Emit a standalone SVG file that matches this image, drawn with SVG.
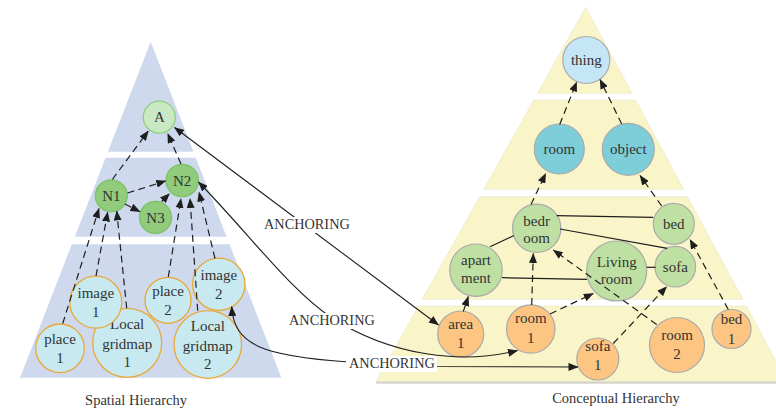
<svg xmlns="http://www.w3.org/2000/svg" width="776" height="410" viewBox="0 0 776 410">
  <defs>
    <marker id="arrow" markerUnits="userSpaceOnUse" markerWidth="10" markerHeight="8" refX="9.5" refY="4" orient="auto-start-reverse">
      <path d="M0,0 L10,4 L0,8 z" fill="#1e1e1e"/>
    </marker>
    <style>
      .tier-s { fill: #cfd9ee; }
      .tier-c { fill: #faf5c9; stroke: #e8e5cc; stroke-width: 0.6; }
      .lbl { font-family: "Liberation Serif", "Times New Roman", serif; font-size: 15px; fill: #333; text-anchor: middle; }
      .cap { font-family: "Liberation Serif", "Times New Roman", serif; font-size: 14.5px; fill: #333; text-anchor: middle; }
      .anc { font-family: "Liberation Serif", "Times New Roman", serif; font-size: 14.3px; fill: #333; }
      .n-a { fill: #c9e8c4; stroke: #8fd07e; stroke-width: 1.3; }
      .n-n { fill: #91cc7d; stroke: #7cc266; stroke-width: 1.3; }
      .n-s { fill: #c8e9f0; stroke: #e9a835; stroke-width: 1.3; }
      .n-top { fill: #c4e6f7; stroke: #aaaaaa; stroke-width: 1.2; }
      .n-mid { fill: #7dced9; stroke: #aaaaaa; stroke-width: 1.2; }
      .n-grn { fill: #bfe0a3; stroke: #aaaaaa; stroke-width: 1.2; }
      .n-org { fill: #fcc682; stroke: #aaaaaa; stroke-width: 1.2; }
      .dash { fill: none; stroke: #1e1e1e; stroke-width: 1.2; stroke-dasharray: 7 4.5; marker-end: url(#arrow); }
      .solid { fill: none; stroke: #1e1e1e; stroke-width: 1.2; }
      .link { fill: none; stroke: #1e1e1e; stroke-width: 1.1; marker-start: url(#arrow); marker-end: url(#arrow); }
    </style>
  </defs>

  <!-- spatial hierarchy tiers -->
  <g id="spatial-tiers">
    <polygon class="tier-s" points="150.7,41.7 193.5,151.7 107.9,151.7"/>
    <polygon class="tier-s" points="105.6,157.7 195.8,157.7 226.6,236.7 74.8,236.7"/>
    <polygon class="tier-s" points="71.8,244.3 229.6,244.3 281.4,377.7 20,377.7"/>
  </g>

  <!-- conceptual hierarchy tiers -->
  <g id="conceptual-tiers">
    <polygon class="tier-c" points="585.7,7.3 632,93.3 537.5,93.3"/>
    <polygon class="tier-c" points="533.8,100 635.6,100 683.6,189.3 483.8,189.3"/>
    <polygon class="tier-c" points="479.6,196.7 687.6,196.7 742.8,299.3 422.2,299.3"/>
    <polygon class="tier-c" points="418.4,306 746.4,306 787.1,381.7 376,381.7"/>
    <line x1="376" y1="382.6" x2="776" y2="382.6" stroke="#d6d5cb" stroke-width="2.2"/>
  </g>

  <!-- spatial nodes -->
  <g id="A"><circle class="n-a" cx="159.3" cy="117.2" r="16"/><text class="lbl" x="159.3" y="122.2">A</text></g>
  <g id="N1"><circle class="n-n" cx="111.3" cy="195.8" r="16"/><text class="lbl" x="111.3" y="200.8">N1</text></g>
  <g id="N2"><circle class="n-n" cx="182.2" cy="180.5" r="16.2"/><text class="lbl" x="182.2" y="185.5">N2</text></g>
  <g id="N3"><circle class="n-n" cx="155.5" cy="217.5" r="16"/><text class="lbl" x="155.5" y="222.5">N3</text></g>
  <g id="place1"><circle class="n-s" cx="60" cy="348.3" r="24.3"/><text class="lbl" x="60" y="343.5">place</text><text class="lbl" x="60" y="363">1</text></g>
  <g id="gridmap1"><circle class="n-s" cx="127.2" cy="342.8" r="34.5"/><text class="lbl" x="127.2" y="329">Local</text><text class="lbl" x="127.2" y="349">gridmap</text><text class="lbl" x="127.2" y="367">1</text></g>
  <g id="image1"><circle class="n-s" cx="95.8" cy="302.2" r="26"/><text class="lbl" x="95.8" y="297.5">image</text><text class="lbl" x="95.8" y="317">1</text></g>
  <g id="gridmap2"><circle class="n-s" cx="207.8" cy="344.5" r="33.8"/><text class="lbl" x="207.8" y="331">Local</text><text class="lbl" x="207.8" y="351">gridmap</text><text class="lbl" x="207.8" y="369">2</text></g>
  <g id="place2"><circle class="n-s" cx="168" cy="300.3" r="23"/><text class="lbl" x="168" y="295.5">place</text><text class="lbl" x="168" y="315">2</text></g>
  <g id="image2"><circle class="n-s" cx="218.8" cy="284.3" r="26.2"/><text class="lbl" x="218.8" y="279.5">image</text><text class="lbl" x="218.8" y="299">2</text></g>

  <!-- conceptual nodes -->
  <g id="thing"><circle class="n-top" cx="586.3" cy="60" r="23.5"/><text class="lbl" x="586.3" y="65">thing</text></g>
  <g id="room"><circle class="n-mid" cx="559.3" cy="149" r="25"/><text class="lbl" x="559.3" y="154">room</text></g>
  <g id="object"><circle class="n-mid" cx="628.3" cy="149.3" r="26"/><text class="lbl" x="628.3" y="154.3">object</text></g>
  <g id="bedroom"><circle class="n-grn" cx="536.7" cy="228.3" r="24.2"/><text class="lbl" x="536.7" y="225.5">bedr</text><text class="lbl" x="536.7" y="243.3">oom</text></g>
  <g id="bed"><circle class="n-grn" cx="673.8" cy="223.8" r="20.5"/><text class="lbl" x="673.8" y="228.8">bed</text></g>
  <g id="apartment"><circle class="n-grn" cx="476" cy="270.2" r="26.2"/><text class="lbl" x="476" y="265">apart</text><text class="lbl" x="476" y="283.3">ment</text></g>
  <g id="living-room"><circle class="n-grn" cx="616.7" cy="271" r="30"/><text class="lbl" x="616.7" y="266.7">Living</text><text class="lbl" x="616.7" y="284.3">room</text></g>
  <g id="sofa"><circle class="n-grn" cx="675.3" cy="266.7" r="20.3"/><text class="lbl" x="675.3" y="271.7">sofa</text></g>
  <g id="area1"><circle class="n-org" cx="460.7" cy="334" r="23"/><text class="lbl" x="460.7" y="329.3">area</text><text class="lbl" x="460.7" y="348.3">1</text></g>
  <g id="room1"><circle class="n-org" cx="530.8" cy="329" r="24.2"/><text class="lbl" x="530.8" y="322.7">room</text><text class="lbl" x="530.8" y="343.3">1</text></g>
  <g id="sofa1"><circle class="n-org" cx="597.8" cy="359" r="21"/><text class="lbl" x="597.8" y="350.7">sofa</text><text class="lbl" x="597.8" y="370">1</text></g>
  <g id="room2"><circle class="n-org" cx="677" cy="345" r="27.5"/><text class="lbl" x="677" y="340">room</text><text class="lbl" x="677" y="359.3">2</text></g>
  <g id="bed1"><circle class="n-org" cx="731.5" cy="329" r="19.5"/><text class="lbl" x="731.5" y="324">bed</text><text class="lbl" x="731.5" y="344">1</text></g>

  <!-- connectors -->
  <g id="connectors">
    <!-- spatial hierarchy -->
    <path class="dash" d="M112.3,179.5 L148.3,131"/>
    <path class="dash" d="M181,164 L167.7,133.5"/>
    <path class="dash" d="M127.5,193 L165.7,181"/>
    <path class="dash" d="M125,204 L140,211.7"/>
    <path class="dash" d="M161.7,201.5 L169.5,193.5"/>
    <path class="dash" d="M62.7,323.5 L99,208.5"/>
    <path class="dash" d="M96,276 L107.7,212"/>
    <path class="dash" d="M126.7,308.3 L116.7,211"/>
    <path class="dash" d="M168.3,277 L181,198.5"/>
    <path class="dash" d="M197.7,310.7 L190,198.5"/>
    <path class="dash" d="M215,258.5 L199,192"/>

    <!-- conceptual hierarchy -->
    <path class="dash" d="M559.7,124.5 L576.7,82"/>
    <path class="dash" d="M621.7,124 L600,79.5"/>
    <path class="dash" d="M531,204.5 L545.7,173.5"/>
    <path class="dash" d="M661.7,206 L640,175.5"/>
    <path class="dash" d="M463.3,311.5 L468.3,296.5"/>
    <path class="dash" d="M531.7,305 L533.3,253.5"/>
    <path class="dash" d="M550,314 L593.3,293.5"/>
    <path class="dash" d="M656.7,324.5 L553.3,250"/>
    <path class="dash" d="M613.3,343.5 L666.7,286.5"/>
    <path class="dash" d="M728.3,309.5 L690,239.5"/>
    <path class="solid" d="M556.7,215.7 L653.3,217.3"/>
    <path class="solid" d="M560,229 L667.3,248.3"/>
    <path class="solid" d="M514,235.5 L490,246.7"/>
    <path class="solid" d="M502,277.7 L587,279.3"/>
    <path class="solid" d="M646.7,267.3 L655.5,267.3"/>

    <!-- anchoring links -->
    <path class="link" d="M174.5,127.5 L438.5,325"/>
    <path class="link" d="M198.5,182 C250,235 290,290 332,318 C390,355 460,365 517.5,350.5"/>
    <path class="link" d="M231.7,306.5 C234,345 262,356 349,362 L436,366.5 L578,367"/>
  </g>

  <!-- anchoring labels -->
  <g id="anchoring-labels">
    <rect x="262" y="217" width="90" height="16" fill="#ffffff"/>
    <text class="anc" x="264" y="229.3">ANCHORING</text>
    <rect x="287" y="313" width="91" height="16" fill="#ffffff"/>
    <text class="anc" x="289" y="325">ANCHORING</text>
    <rect x="346" y="356" width="91" height="16" fill="#ffffff"/>
    <text class="anc" x="349" y="368.3">ANCHORING</text>
  </g>

  <!-- captions -->
  <text class="cap" x="136" y="405">Spatial Hierarchy</text>
  <text class="cap" x="616" y="403.3">Conceptual Hierarchy</text>
</svg>
